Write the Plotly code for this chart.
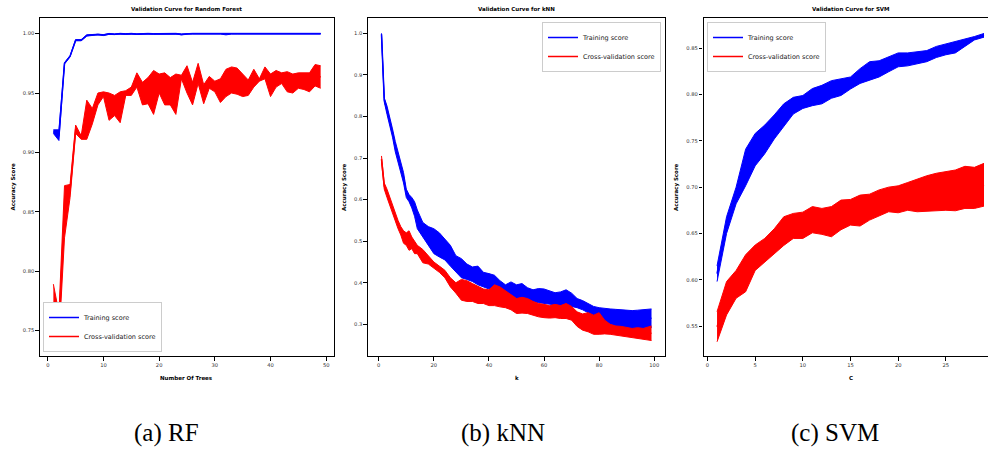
import numpy as np
import plotly.graph_objects as go

W, H = 988, 450

# ---------------- Random Forest ----------------
rf_trees = list(range(1, 50))
rf_train_upper = [0.919, 0.919, 0.9755, 0.9815, 0.995, 0.995, 0.999, 0.9993, 0.9996, 0.9992,
                  1.0002, 0.9998, 1.0003, 1.0, 1.0003, 0.9999, 1.0003, 1.0003, 1.0001, 1.0003,
                  1.0003, 1.0003, 1.0003, 0.9998, 1.0003, 1.0003, 1.0003, 1.0003, 1.0003, 1.0003,
                  1.0003, 0.9998, 1.0003, 1.0003, 1.0003, 1.0003, 1.0003, 0.9999, 1.0003, 1.0003,
                  1.0003, 1.0003, 1.0003, 1.0003, 1.0003, 1.0003, 1.0003, 1.0003, 1.0003]
rf_train_lower = [0.916, 0.910, 0.9745, 0.9805, 0.994, 0.994, 0.998, 0.9987, 0.999, 0.9984,
                  0.9994, 0.9992, 0.9997, 0.9994, 0.9997, 0.9993, 0.9997, 0.9997, 0.9995, 0.9997,
                  0.9997, 0.9997, 0.9997, 0.9990, 0.9997, 0.9997, 0.9997, 0.9997, 0.9997, 0.9997,
                  0.9997, 0.9990, 0.9997, 0.9997, 0.9997, 0.9997, 0.9997, 0.9992, 0.9997, 0.9997,
                  0.9997, 0.9997, 0.9997, 0.9997, 0.9997, 0.9997, 0.9997, 0.9997, 0.9997]
rf_cv_upper = [0.789, 0.765, 0.872, 0.873, 0.923, 0.914, 0.944, 0.937, 0.950, 0.951,
               0.950, 0.948, 0.951, 0.952, 0.955, 0.967, 0.959, 0.963, 0.969, 0.966,
               0.967, 0.963, 0.966, 0.965, 0.973, 0.959, 0.975, 0.957, 0.964, 0.960,
               0.962, 0.970, 0.972, 0.971, 0.966, 0.961, 0.970, 0.962, 0.972, 0.966,
               0.969, 0.967, 0.968, 0.966, 0.967, 0.967, 0.967, 0.974, 0.973]
rf_cv_lower = [0.741, 0.742, 0.828, 0.862, 0.916, 0.911, 0.911, 0.924, 0.940, 0.947,
               0.927, 0.931, 0.925, 0.948, 0.948, 0.955, 0.940, 0.941, 0.932, 0.950,
               0.940, 0.940, 0.932, 0.962, 0.950, 0.940, 0.958, 0.941, 0.954, 0.951,
               0.942, 0.947, 0.950, 0.949, 0.947, 0.948, 0.955, 0.960, 0.962, 0.947,
               0.955, 0.958, 0.951, 0.950, 0.954, 0.953, 0.951, 0.956, 0.954]

# ---------------- kNN ----------------
knn_k = [1, 2, 3, 4, 5, 6, 7, 8, 9, 10, 11, 12, 13, 14, 16, 18, 20, 22, 24, 26, 28, 30,
         32, 34, 36, 38, 40, 42, 44, 46, 48, 50, 52, 54, 56, 58, 60, 62, 64, 66, 68, 70,
         72, 74, 76, 78, 80, 82, 84, 86, 88, 90, 92, 94, 96, 98, 99]
knn_train_upper = [1.000, 0.845, 0.825, 0.800, 0.770, 0.740, 0.715, 0.690, 0.665, 0.625,
                   0.612, 0.605, 0.595, 0.575, 0.545, 0.535, 0.530, 0.520, 0.505, 0.490,
                   0.465, 0.458, 0.445, 0.438, 0.440, 0.425, 0.422, 0.418, 0.405, 0.395,
                   0.402, 0.395, 0.398, 0.388, 0.383, 0.386, 0.385, 0.380, 0.376, 0.378,
                   0.383, 0.375, 0.362, 0.357, 0.350, 0.343, 0.340, 0.338, 0.337, 0.336,
                   0.335, 0.334, 0.333, 0.334, 0.335, 0.336, 0.337]
knn_train_lower = [0.995, 0.835, 0.805, 0.780, 0.750, 0.715, 0.690, 0.665, 0.640, 0.605,
                   0.595, 0.580, 0.560, 0.530, 0.510, 0.490, 0.470, 0.462, 0.455, 0.440,
                   0.425, 0.412, 0.408, 0.403, 0.395, 0.390, 0.385, 0.382, 0.378, 0.372,
                   0.368, 0.362, 0.360, 0.357, 0.355, 0.352, 0.350, 0.348, 0.346, 0.345,
                   0.346, 0.343, 0.340, 0.335, 0.328, 0.320, 0.315, 0.308, 0.300, 0.296,
                   0.293, 0.290, 0.289, 0.288, 0.290, 0.291, 0.292]
knn_cv_upper = [0.705, 0.640, 0.625, 0.605, 0.585, 0.570, 0.550, 0.535, 0.525, 0.520,
                0.525, 0.510, 0.500, 0.490, 0.480, 0.465, 0.450, 0.440, 0.430, 0.412,
                0.400, 0.408, 0.405, 0.398, 0.392, 0.385, 0.383, 0.395, 0.390, 0.380,
                0.370, 0.362, 0.365, 0.362, 0.355, 0.350, 0.348, 0.345, 0.348, 0.345,
                0.350, 0.343, 0.330, 0.325, 0.328, 0.322, 0.328, 0.310, 0.300, 0.296,
                0.295, 0.292, 0.290, 0.292, 0.290, 0.294, 0.296]
knn_cv_lower = [0.690, 0.625, 0.605, 0.585, 0.565, 0.545, 0.530, 0.515, 0.495, 0.490,
                0.478, 0.482, 0.470, 0.470, 0.448, 0.445, 0.435, 0.425, 0.412, 0.390,
                0.375, 0.358, 0.355, 0.355, 0.350, 0.350, 0.345, 0.345, 0.342, 0.340,
                0.335, 0.326, 0.327, 0.326, 0.322, 0.318, 0.316, 0.315, 0.316, 0.314,
                0.314, 0.310, 0.295, 0.286, 0.282, 0.276, 0.276, 0.277, 0.276, 0.274,
                0.272, 0.270, 0.268, 0.265, 0.264, 0.262, 0.261]

# ---------------- SVM ----------------
svm_c = list(range(1, 30))
svm_train_upper = [0.615, 0.668, 0.700, 0.741, 0.758, 0.767, 0.778, 0.790, 0.797, 0.799,
                   0.8065, 0.810, 0.815, 0.817, 0.819, 0.828, 0.8355, 0.8365, 0.841, 0.845,
                   0.845, 0.8465, 0.8475, 0.852, 0.8545, 0.857, 0.8598, 0.8627, 0.866]
svm_train_lower = [0.598, 0.650, 0.682, 0.7015, 0.723, 0.736, 0.752, 0.765, 0.779, 0.785,
                   0.788, 0.790, 0.796, 0.799, 0.806, 0.812, 0.8155, 0.819, 0.8246, 0.830,
                   0.831, 0.833, 0.8355, 0.840, 0.843, 0.845, 0.852, 0.859, 0.862]
svm_cv_upper = [0.5655, 0.598, 0.610, 0.627, 0.6375, 0.6446, 0.655, 0.668, 0.6716, 0.673,
                0.679, 0.677, 0.679, 0.686, 0.6867, 0.6914, 0.6924, 0.697, 0.700, 0.7014,
                0.705, 0.7087, 0.7123, 0.715, 0.717, 0.7185, 0.7225, 0.7214, 0.7257]
svm_cv_lower = [0.533, 0.562, 0.580, 0.587, 0.610, 0.619, 0.628, 0.637, 0.6446, 0.6446,
                0.6507, 0.649, 0.6464, 0.654, 0.659, 0.658, 0.6644, 0.669, 0.6734, 0.6723,
                0.675, 0.6734, 0.674, 0.675, 0.675, 0.6745, 0.677, 0.677, 0.6795]

titles = ["Validation Curve for Random Forest", "Validation Curve for kNN", "Validation Curve for SVM"]
xlabels = ["Number Of Trees", "k", "C"]
captions = ["(a) RF", "(b) kNN", "(c) SVM"]

BLUE = "#0000ff"
RED = "#ff0000"

# pixel layout of the three axes boxes (left, right) and shared top/bottom
px_boxes = [(40, 334), (368, 665), (703.5, 988)]
top_px, bot_px = 18, 356
xranges = [[-1.4, 51.4], [-3.9, 103.9], [-0.42, 29.42]]
yranges = [[0.7285, 1.0132], [0.2238, 1.0368], [0.5176, 0.8827]]
xticks = [list(range(0, 51, 10)), list(range(0, 101, 20)), list(range(0, 26, 5))]
yticks = [[0.75, 0.80, 0.85, 0.90, 0.95, 1.00],
          [0.3, 0.4, 0.5, 0.6, 0.7, 0.8, 0.9, 1.0],
          [0.55, 0.60, 0.65, 0.70, 0.75, 0.80, 0.85]]
yfmt = [".2f", ".1f", ".2f"]

datasets = [
    (rf_trees, rf_train_upper, rf_train_lower, rf_cv_upper, rf_cv_lower),
    (knn_k, knn_train_upper, knn_train_lower, knn_cv_upper, knn_cv_lower),
    (svm_c, svm_train_upper, svm_train_lower, svm_cv_upper, svm_cv_lower),
]
legend_names = ["legend", "legend2", "legend3"]

fig = go.Figure()

for i, (xs, tu, tl, cu, cl) in enumerate(datasets):
    xa = "x" if i == 0 else f"x{i+1}"
    ya = "y" if i == 0 else f"y{i+1}"
    tu = np.array(tu); tl = np.array(tl); cu = np.array(cu); cl = np.array(cl)
    for (up, lo, col, name) in [(tu, tl, BLUE, "Training score"),
                                (cu, cl, RED, "Cross-validation score")]:
        fig.add_trace(go.Scatter(x=xs, y=up, mode="lines", line=dict(color=col, width=1),
                                 xaxis=xa, yaxis=ya, showlegend=False, hoverinfo="skip"))
        fig.add_trace(go.Scatter(x=xs, y=lo, mode="lines", line=dict(color=col, width=1),
                                 fill="tonexty", fillcolor=col,
                                 xaxis=xa, yaxis=ya, showlegend=False, hoverinfo="skip"))
        fig.add_trace(go.Scatter(x=xs, y=(up + lo) / 2, mode="lines",
                                 line=dict(color=col, width=1.5), name=name,
                                 xaxis=xa, yaxis=ya, legend=legend_names[i]))

axis_common = dict(showline=True, linecolor="black", linewidth=1.2, ticks="outside",
                   ticklen=3.5, tickwidth=1, tickcolor="black", showgrid=False,
                   zeroline=False, tickfont=dict(family="DejaVu Sans", size=5.2, color="#333333"))

layout = dict(width=W, height=H, margin=dict(l=0, r=0, t=0, b=0),
              paper_bgcolor="white", plot_bgcolor="white", annotations=[])

ydom = [1 - bot_px / H, 1 - top_px / H]
for i in range(3):
    xl, xr = px_boxes[i]
    xkey = "xaxis" if i == 0 else f"xaxis{i+1}"
    ykey = "yaxis" if i == 0 else f"yaxis{i+1}"
    yanchor_name = "y" if i == 0 else f"y{i+1}"
    xanchor_name = "x" if i == 0 else f"x{i+1}"
    layout[xkey] = dict(axis_common, domain=[xl / W, xr / W], range=xranges[i],
                        tickvals=xticks[i], anchor=yanchor_name, mirror=True)
    layout[ykey] = dict(axis_common, domain=ydom, range=yranges[i],
                        tickvals=yticks[i], tickformat=yfmt[i], anchor=xanchor_name,
                        mirror=(i != 2))

# legends
leg_common = dict(bgcolor="white", bordercolor="#cccccc", borderwidth=1,
                  font=dict(family="DejaVu Sans", size=6.5, color="#222222"),
                  tracegroupgap=0, itemwidth=30, traceorder="normal")
layout["legend"] = dict(leg_common, x=43 / W, y=1 - 352 / H, xanchor="left", yanchor="bottom")
layout["legend2"] = dict(leg_common, x=661 / W, y=1 - 22 / H, xanchor="right", yanchor="top")
layout["legend3"] = dict(leg_common, x=707 / W, y=1 - 22 / H, xanchor="left", yanchor="top")

fig.update_layout(**layout)

title_centers = [186.5, 516.5, 850.5]
ylabel_x = [12.5, 344, 676]
caption_centers = [166, 503, 835]
for i in range(3):
    fig.add_annotation(text=f"<b>{titles[i]}</b>", x=title_centers[i] / W, y=1 - 9.5 / H,
                       xref="paper", yref="paper", showarrow=False, xanchor="center",
                       yanchor="middle", font=dict(family="DejaVu Sans", size=5.5, color="black"))
    fig.add_annotation(text=f"<b>{xlabels[i]}</b>", x=title_centers[i] / W, y=1 - 378 / H,
                       xref="paper", yref="paper", showarrow=False, xanchor="center",
                       yanchor="middle", font=dict(family="DejaVu Sans", size=5.5, color="black"))
    fig.add_annotation(text="<b>Accuracy Score</b>", x=ylabel_x[i] / W, y=1 - 187 / H,
                       xref="paper", yref="paper", showarrow=False, xanchor="center",
                       yanchor="middle", textangle=-90,
                       font=dict(family="DejaVu Sans", size=5.5, color="black"))
    fig.add_annotation(text=captions[i], x=caption_centers[i] / W, y=1 - 433 / H,
                       xref="paper", yref="paper", showarrow=False, xanchor="center",
                       yanchor="middle",
                       font=dict(family="Liberation Serif", size=25, color="black"))

fig.write_html("out.html", config={"displayModeBar": False},
               post_script="document.body.style.margin='0px';document.body.style.overflow='hidden';")
